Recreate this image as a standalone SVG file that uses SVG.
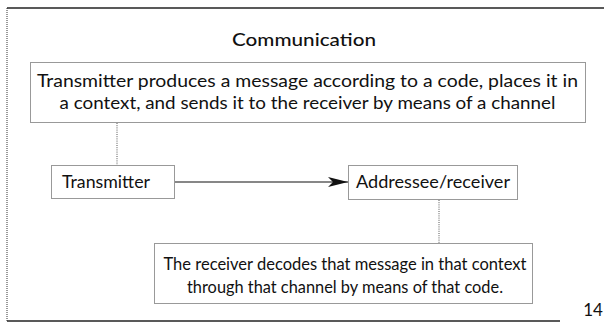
<svg xmlns="http://www.w3.org/2000/svg" width="604" height="325" viewBox="0 0 604 325">
  <style>
    .frame { fill: none; stroke: #222; stroke-width: 1.4; }
    .side { fill: none; stroke: #333; stroke-width: 1; stroke-dasharray: 1 1; }
    .box { fill: #fff; stroke: #333; stroke-width: 1; stroke-dasharray: 1 1; }
    .link { fill: none; stroke: #555; stroke-width: 1; stroke-dasharray: 1 1.2; }
    .arrow { fill: none; stroke: #111; stroke-width: 1.2; }
    text { font-family: Lato, "Liberation Sans", sans-serif; fill: #111; text-anchor: middle; }
    .title { font-size: 18px; font-weight: 500; }
    .lead { font-size: 18px; }
    .body { font-size: 16.5px; }
    .label { font-size: 17px; }
  </style>
  <defs>
    <marker id="head" viewBox="0 0 20 10" refX="20" refY="5" markerWidth="20" markerHeight="10" markerUnits="userSpaceOnUse" orient="auto">
      <path d="M0,0 L20,5 L0,10 L5,5 Z" fill="#111"/>
    </marker>
  </defs>

  <rect width="604" height="325" fill="#fff"/>

  <!-- page frame -->
  <path class="frame" d="M7,8 H604"/>
  <path class="frame" d="M7,321 H560"/>
  <path class="side" d="M7,8 V321"/>

  <text class="title" x="304" y="46" textLength="144" lengthAdjust="spacingAndGlyphs">Communication</text>

  <!-- connectors -->
  <g id="connectors">
    <path class="link" d="M117,123 V165"/>
    <path class="link" d="M439,200 V243"/>
    <path class="arrow" d="M175,182 H348" marker-end="url(#head)"/>
  </g>

  <g id="transmission">
    <rect class="box" x="30.5" y="62.5" width="555" height="60"/>
    <text class="lead" x="307.5" y="87" textLength="541" lengthAdjust="spacingAndGlyphs">Transmitter produces a message according to a code, places it in</text>
    <text class="lead" x="307.5" y="109" textLength="496" lengthAdjust="spacingAndGlyphs">a context, and sends it to the receiver by means of a channel</text>
  </g>

  <g id="transmitter">
    <rect class="box" x="51.5" y="165.5" width="123" height="33"/>
    <text class="label" x="106" y="188" textLength="88" lengthAdjust="spacingAndGlyphs">Transmitter</text>
  </g>

  <g id="receiver">
    <rect class="box" x="348.5" y="165.5" width="169" height="34"/>
    <text class="label" x="433" y="188" textLength="154" lengthAdjust="spacingAndGlyphs">Addressee/receiver</text>
  </g>

  <g id="decoding">
    <rect class="box" x="154.5" y="243.5" width="378" height="60"/>
    <text class="body" x="345" y="270" textLength="363" lengthAdjust="spacingAndGlyphs">The receiver decodes that message in that context</text>
    <text class="body" x="345" y="293" textLength="316" lengthAdjust="spacingAndGlyphs">through that channel by means of that code.</text>
  </g>

  <text class="label" x="593" y="316">14</text>
</svg>
